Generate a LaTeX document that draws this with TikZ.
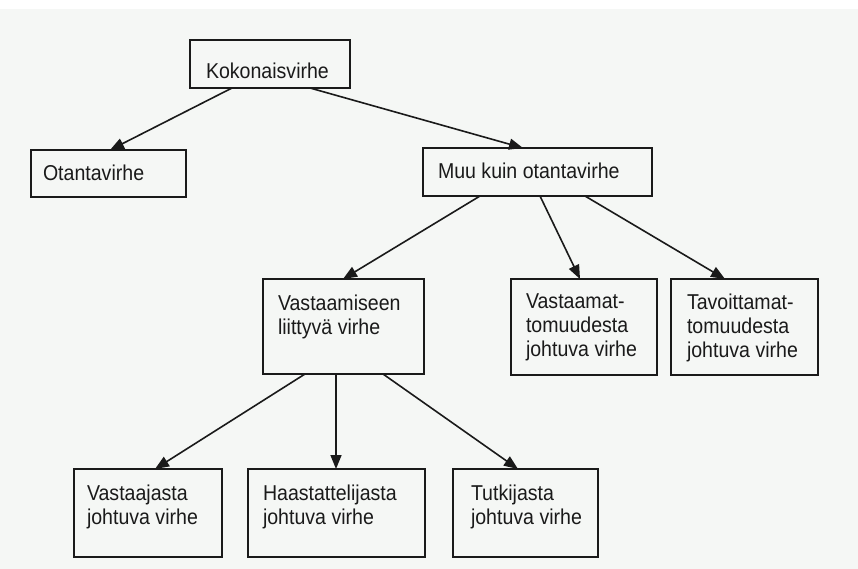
\documentclass[tikz,border=0pt]{standalone}
\usepackage{fontspec}
\setmainfont{Liberation Sans}[FakeStretch=0.91]
\usetikzlibrary{arrows.meta}
\definecolor{bg}{HTML}{F5F7F5}
\definecolor{ink}{HTML}{1A1A1A}
\tikzset{
  boxnode/.style={draw=ink, line width=1.9pt, rectangle, inner sep=0pt, outer sep=0pt, anchor=north west},
  lbl/.style={anchor=north west, inner sep=0pt, outer sep=0pt, align=left, text=ink,
    font=\fontsize{21.5pt}{24pt}\selectfont},
  conn/.style={draw=ink, line width=1.6pt, -{Triangle[length=14pt,width=11pt]}}
}
\begin{document}
\begin{tikzpicture}[x=1pt,y=-1pt]
\path[fill=bg, use as bounding box] (0,0) rectangle (858,569);
\path[fill=white] (0,0) rectangle (858,9);
% boxes
\node[boxnode, minimum width=160pt, minimum height=48pt] (koko) at (190,40) {};
\node[boxnode, minimum width=155pt, minimum height=47pt] (otanta) at (31,150) {};
\node[boxnode, minimum width=229pt, minimum height=48pt] (muu) at (423,148) {};
\node[boxnode, minimum width=161pt, minimum height=95pt] (vast) at (263,279) {};
\node[boxnode, minimum width=146pt, minimum height=96pt] (vastmat) at (511,279) {};
\node[boxnode, minimum width=147pt, minimum height=96pt] (tavo) at (671,279) {};
\node[boxnode, minimum width=148pt, minimum height=88pt] (vaja) at (74,469) {};
\node[boxnode, minimum width=177pt, minimum height=88pt] (haas) at (248,469) {};
\node[boxnode, minimum width=145pt, minimum height=88pt] (tutk) at (453,469) {};
% labels
\node[lbl] (tkoko) at ([xshift=16pt,yshift=-23pt]koko.north west) {Kokonaisvirhe};
\node[lbl] (totanta) at ([xshift=12pt,yshift=-15pt]otanta.north west) {Otantavirhe};
\node[lbl] (tmuu) at ([xshift=15pt,yshift=-15pt]muu.north west) {Muu kuin otantavirhe};
\node[lbl] (tvast) at ([xshift=15pt,yshift=-16pt]vast.north west) {Vastaamiseen\\liittyvä virhe};
\node[lbl] (tvastmat) at ([xshift=15pt,yshift=-15pt]vastmat.north west) {Vastaamat-\\tomuudesta\\johtuva virhe};
\node[lbl] (ttavo) at ([xshift=16pt,yshift=-15pt]tavo.north west) {Tavoittamat-\\tomuudesta\\johtuva virhe};
\node[lbl] (tvaja) at ([xshift=13pt,yshift=-16pt]vaja.north west) {Vastaajasta\\johtuva virhe};
\node[lbl] (thaas) at ([xshift=15pt,yshift=-16pt]haas.north west) {Haastattelijasta\\johtuva virhe};
\node[lbl] (ttutk) at ([xshift=18pt,yshift=-16pt]tutk.north west) {Tutkijasta\\johtuva virhe};
% connectors
\draw[conn] ([xshift=42pt]koko.south west) -- ([xshift=79pt]otanta.north west);
\draw[conn] ([xshift=120pt]koko.south west) -- ([xshift=100pt]muu.north west);
\draw[conn] ([xshift=57pt]muu.south west) -- ([xshift=80pt]vast.north west);
\draw[conn] ([xshift=117pt]muu.south west) -- ([xshift=69pt]vastmat.north west);
\draw[conn] ([xshift=162pt]muu.south west) -- ([xshift=54pt]tavo.north west);
\draw[conn] ([xshift=42pt]vast.south west) -- ([xshift=81pt]vaja.north west);
\draw[conn] ([xshift=73pt]vast.south west) -- ([xshift=88pt]haas.north west);
\draw[conn] ([xshift=120pt]vast.south west) -- ([xshift=65pt]tutk.north west);
\end{tikzpicture}
\end{document}
